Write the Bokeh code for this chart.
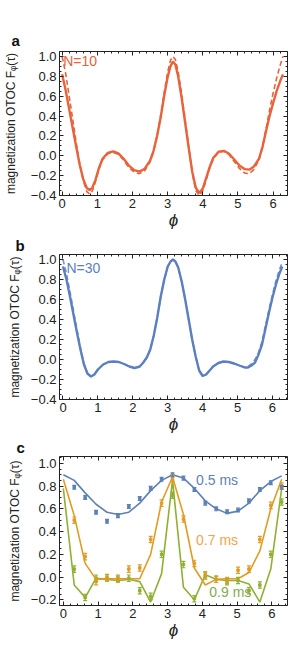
from bokeh.plotting import figure
from bokeh.layouts import column
from bokeh.models import (Range1d, LinearAxis, SingleIntervalTicker, CustomJSTickFormatter,
                          ColumnDataSource, Whisker, TeeHead)
from bokeh.core.properties import value
from bokeh.embed import file_html
from bokeh.resources import INLINE

FONT = "Liberation Sans"

# ---------------- panel a (N=10) ----------------
phi_a = [0.0, 0.1, 0.2, 0.3, 0.4, 0.5, 0.6, 0.7, 0.78, 0.86, 0.95, 1.05, 1.15, 1.3, 1.45, 1.6,
         1.75, 1.9, 2.05, 2.2, 2.35, 2.5, 2.6, 2.7, 2.8, 2.9, 3.0, 3.08, 3.15, 3.22, 3.3, 3.4,
         3.5, 3.6, 3.7, 3.8, 3.9, 4.0, 4.1, 4.2, 4.3, 4.45, 4.6, 4.75, 4.9, 5.05, 5.2, 5.32,
         5.45, 5.6, 5.7, 5.8, 5.9, 6.0, 6.1, 6.2, 6.28]
solid_a = [0.82, 0.66, 0.47, 0.28, 0.09, -0.09, -0.235, -0.325, -0.345, -0.32, -0.24, -0.12,
           -0.03, 0.03, 0.045, 0.025, -0.03, -0.10, -0.145, -0.16, -0.13, -0.05, 0.05, 0.20,
           0.38, 0.60, 0.79, 0.90, 0.95, 0.92, 0.80, 0.58, 0.33, 0.08, -0.16, -0.32, -0.375,
           -0.33, -0.22, -0.11, -0.02, 0.04, 0.05, 0.02, -0.04, -0.10, -0.135, -0.14, -0.11,
           -0.03, 0.09, 0.25, 0.40, 0.53, 0.65, 0.75, 0.82]
dashed_a = [1.0, 0.83, 0.60, 0.37, 0.13, -0.08, -0.25, -0.36, -0.385, -0.355, -0.26, -0.13,
            -0.04, 0.02, 0.035, 0.015, -0.045, -0.12, -0.165, -0.18, -0.15, -0.06, 0.04, 0.20,
            0.40, 0.63, 0.84, 0.96, 1.0, 0.97, 0.85, 0.62, 0.36, 0.09, -0.17, -0.35, -0.40,
            -0.355, -0.24, -0.12, -0.03, 0.035, 0.045, 0.01, -0.06, -0.13, -0.175, -0.18, -0.14,
            -0.04, 0.09, 0.27, 0.46, 0.63, 0.78, 0.91, 1.0]

# ---------------- panel b (N=30) ----------------
phi_b = [0.0, 0.1, 0.2, 0.3, 0.4, 0.5, 0.6, 0.7, 0.8, 0.9, 1.0, 1.15, 1.3, 1.45, 1.6, 1.75,
         1.9, 2.05, 2.2, 2.3, 2.4, 2.5, 2.6, 2.7, 2.8, 2.9, 3.0, 3.08, 3.15, 3.22, 3.3, 3.4,
         3.5, 3.6, 3.7, 3.8, 3.9, 4.0, 4.1, 4.2, 4.3, 4.45, 4.6, 4.75, 4.9, 5.05, 5.2, 5.3,
         5.4, 5.5, 5.6, 5.7, 5.8, 5.9, 6.0, 6.1, 6.2, 6.28]
solid_b = [0.93, 0.80, 0.63, 0.45, 0.27, 0.10, -0.05, -0.14, -0.17, -0.15, -0.10, -0.05,
           -0.025, -0.02, -0.025, -0.045, -0.07, -0.085, -0.07, -0.03, 0.02, 0.10, 0.24,
           0.42, 0.63, 0.80, 0.93, 0.98, 1.0, 0.98, 0.92, 0.78, 0.60, 0.40, 0.20, 0.03, -0.11,
           -0.165, -0.15, -0.11, -0.07, -0.035, -0.02, -0.025, -0.04, -0.06, -0.08, -0.08,
           -0.06, -0.03, 0.05, 0.15, 0.31, 0.47, 0.62, 0.75, 0.86, 0.93]
dashed_b = [1.0, 0.86, 0.68, 0.49, 0.30, 0.12, -0.04, -0.14, -0.17, -0.15, -0.10, -0.05,
            -0.025, -0.02, -0.025, -0.045, -0.07, -0.085, -0.07, -0.03, 0.02, 0.10, 0.24,
            0.42, 0.63, 0.80, 0.93, 0.98, 1.0, 0.98, 0.92, 0.78, 0.60, 0.40, 0.20, 0.03, -0.11,
            -0.165, -0.15, -0.11, -0.07, -0.035, -0.02, -0.025, -0.04, -0.06, -0.075, -0.07,
            -0.04, 0.0, 0.07, 0.18, 0.34, 0.50, 0.65, 0.79, 0.90, 0.97]

# ---------------- panel c (experiment) ----------------
phi_c = [0.0, 0.314, 0.628, 0.942, 1.257, 1.571, 1.885, 2.199, 2.513, 2.827, 3.142, 3.456,
         3.770, 4.084, 4.398, 4.712, 5.027, 5.341, 5.655, 5.969, 6.283]
line_05 = [0.90, 0.85, 0.74, 0.64, 0.57, 0.55, 0.57, 0.65, 0.76, 0.85, 0.90, 0.87, 0.78,
           0.67, 0.60, 0.56, 0.58, 0.65, 0.76, 0.84, 0.89]
line_07 = [0.86, 0.54, 0.12, -0.02, -0.015, -0.015, -0.015, -0.015, 0.20, 0.66, 0.88, 0.55,
           0.08, -0.07, -0.02, -0.015, -0.015, 0.04, 0.23, 0.60, 0.86]
line_09 = [0.78, -0.07, -0.18, -0.01, -0.02, -0.03, -0.02, -0.04, -0.22, 0.03, 0.85, -0.09,
           -0.20, 0.02, -0.02, -0.03, -0.03, -0.06, -0.22, 0.07, 0.78]
phi_pts = phi_c[1:]
pts_05 = [0.79, 0.70, 0.57, 0.49, 0.54, 0.62, 0.69, 0.78, 0.86, 0.90, 0.87, 0.77, 0.65, 0.60,
          0.575, 0.59, 0.67, 0.77, 0.83, 0.79]
pts_07 = [0.50, 0.18, -0.04, -0.01, -0.02, 0.07, 0.08, 0.33, 0.65, 0.87, 0.51, 0.12, 0.02,
          -0.02, -0.03, 0.06, 0.07, 0.33, 0.63, 0.80]
pts_09 = [0.07, -0.18, -0.01, -0.005, -0.01, -0.01, -0.12, -0.17, 0.20, 0.72, 0.11, -0.19,
          0.01, -0.02, -0.04, -0.03, -0.12, -0.07, 0.20, 0.66]
err_05 = [0.017] * 20
err_07 = [0.028] * 20
err_09 = [0.028] * 20

x_label = "\u03d5"
y_label = "magnetization OTOC F\u1d69(\u03c4)"

RED = "#E8623A"
BLUE_B = "#5B7FBF"
BLUE_BD = "#7393CC"
C_BLUE = "#5E81B5"
C_ORANGE = "#E19C24"
C_GREEN = "#8FB032"


def fmt(dec, hide=False):
    if hide:
        return CustomJSTickFormatter(code="return '';")
    return CustomJSTickFormatter(
        code="return tick.toFixed(%d).replace('-', '\u2212');" % dec)


def make_axis(interval, nminor, dec, hide):
    ax = LinearAxis(ticker=SingleIntervalTicker(interval=interval, num_minor_ticks=nminor),
                    formatter=fmt(dec, hide))
    ax.axis_line_color = None
    ax.major_tick_in = 4
    ax.major_tick_out = 0
    ax.minor_tick_in = 2
    ax.minor_tick_out = 0
    ax.major_tick_line_color = "#222222"
    ax.minor_tick_line_color = "#222222"
    ax.major_label_text_font = FONT
    ax.major_label_text_color = "#222222"
    if hide:
        ax.major_label_text_font_size = "0px"
        ax.major_label_standoff = 0
    else:
        ax.major_label_text_font_size = "13px"
        ax.major_label_standoff = 3
    return ax


def make_fig(letter, width, height, xr, yr, left, right, top, bottom, ystand, title_standoff):
    p = figure(width=width, height=height, x_range=Range1d(*xr), y_range=Range1d(*yr),
               output_backend="svg", toolbar_location=None, x_axis_type=None,
               y_axis_type=None, min_border_left=left, min_border_right=right,
               min_border_top=top, min_border_bottom=bottom)
    p.outline_line_color = "#222222"
    p.outline_line_width = 1
    p.outline_line_alpha = 1
    p.xgrid.visible = False
    p.ygrid.visible = False
    bx = make_axis(1, 5, 0, False)
    bx.axis_label = x_label
    bx.axis_label_text_font = FONT
    bx.axis_label_text_font_size = "17px"
    bx.axis_label_text_font_style = "italic"
    bx.axis_label_standoff = 0
    bx.axis_label_text_color = "#222222"
    p.add_layout(bx, "below")
    ly = make_axis(0.2, 4, 1, False)
    ly.axis_label = y_label
    ly.axis_label_text_font = FONT
    ly.axis_label_text_font_size = "12px"
    ly.axis_label_text_font_style = "normal"
    ly.axis_label_standoff = ystand
    ly.axis_label_text_color = "#222222"
    p.add_layout(ly, "left")
    p.add_layout(make_axis(1, 5, 0, True), "above")
    p.add_layout(make_axis(0.2, 4, 1, True), "right")
    p.title.text = letter
    p.title.align = "left"
    p.title.offset = -(left - 6)
    p.title.text_font = FONT
    p.title.text_font_size = "15px"
    p.title.text_font_style = "bold"
    p.title.text_color = "#111111"
    p.title.standoff = title_standoff
    return p


# panel a
pa = make_fig("a", 299, 232, (-0.075, 6.41), (-0.4, 1.05), 54, 12, 51, 36, 10, 5)
pa.line(phi_a, dashed_a, line_color=RED, line_width=1.6, line_dash="5 3")
pa.line(phi_a, solid_a, line_color=RED, line_width=2.4)
pa.text(x=[0.03], y=[0.955], text=["N=10"], text_font=value(FONT), text_font_size="14px",
        text_color=RED, text_baseline="middle", text_align="left")

# panel b
pb = make_fig("b", 299, 204, (-0.1, 6.43), (-0.4, 1.05), 50, 12, 22, 36, 6, 2)
pb.line(phi_b, dashed_b, line_color=BLUE_BD, line_width=1.6, line_dash="5 3")
pb.line(phi_b, solid_b, line_color=BLUE_B, line_width=2.4)
pb.text(x=[0.1], y=[0.92], text=["N=30"], text_font=value(FONT), text_font_size="14px",
        text_color=BLUE_B, text_baseline="middle", text_align="left")

# panel c
pc = make_fig("c", 299, 206, (-0.11, 6.45), (-0.25, 1.06), 49, 5, 18, 36, 6, 1)
for ln, pts, err, col in ((line_09, pts_09, err_09, C_GREEN),
                          (line_07, pts_07, err_07, C_ORANGE),
                          (line_05, pts_05, err_05, C_BLUE)):
    pc.line(phi_c, ln, line_color=col, line_width=1.6)
    src = ColumnDataSource(dict(x=phi_pts, y=pts,
                                upper=[a + b for a, b in zip(pts, err)],
                                lower=[a - b for a, b in zip(pts, err)]))
    w = Whisker(source=src, base="x", upper="upper", lower="lower", dimension="height",
                line_color=col, line_width=1.2, level="glyph",
                upper_head=TeeHead(size=4, line_color=col, line_width=1.2),
                lower_head=TeeHead(size=4, line_color=col, line_width=1.2))
    pc.add_layout(w)
    pc.scatter("x", "y", source=src, marker="square", size=2.5, fill_color=col,
               line_color=col)

pc.text(x=[3.82], y=[0.85], text=["0.5 ms"], text_font=value(FONT), text_font_size="14px",
        text_color=C_BLUE, text_baseline="middle", text_align="left")
pc.text(x=[3.82], y=[0.33], text=["0.7 ms"], text_font=value(FONT), text_font_size="14px",
        text_color="#F2A44A", text_baseline="middle", text_align="left")
pc.text(x=[4.2], y=[-0.13], text=["0.9 ms"], text_font=value(FONT), text_font_size="14px",
        text_color="#86AA50", text_baseline="middle", text_align="left")

layout = column(pa, pb, pc, spacing=0)
open("out.html", "w").write(file_html(layout, INLINE))
